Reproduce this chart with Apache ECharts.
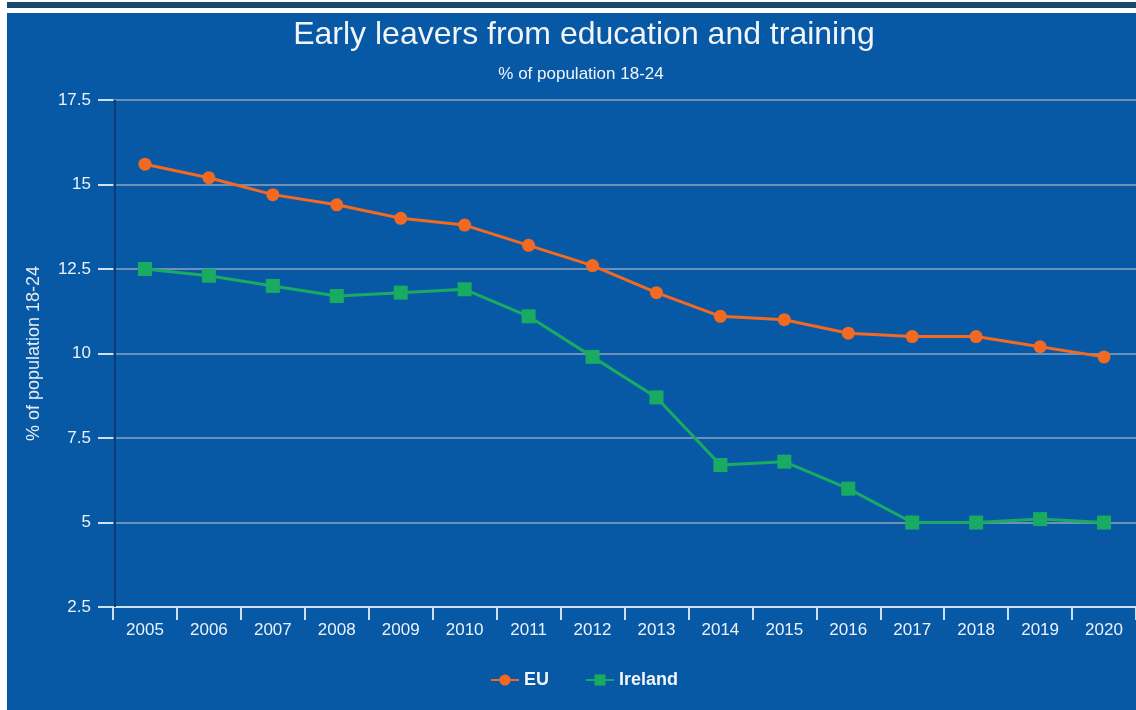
<!DOCTYPE html>
<html>
<head>
<meta charset="utf-8">
<script src="https://cdn.jsdelivr.net/npm/echarts@6/dist/echarts.min.js"></script>
<style>
html,body{margin:0;padding:0;background:#fff;}
#c{width:1136px;height:710px;}
</style>
</head>
<body>
<div id="c"></div>
<script>
const years = ['2005','2006','2007','2008','2009','2010','2011','2012','2013','2014','2015','2016','2017','2018','2019','2020'];
const euValues = [15.6, 15.2, 14.7, 14.4, 14.0, 13.8, 13.2, 12.6, 11.8, 11.1, 11.0, 10.6, 10.5, 10.5, 10.2, 9.9];
const irelandValues = [12.5, 12.3, 12.0, 11.7, 11.8, 11.9, 11.1, 9.9, 8.7, 6.7, 6.8, 6.0, 5.0, 5.0, 5.1, 5.0];
const yTicks = [2.5, 5, 7.5, 10, 12.5, 15, 17.5];

const chart = echarts.init(document.getElementById('c'), null, {renderer:'canvas'});
const ORANGE = '#f26a22';
const GREEN = '#1aab62';
const FONT = 'Liberation Sans, Arial, sans-serif';
chart.setOption({
  backgroundColor: '#ffffff',
  animation: false,
  graphic: [
    {type:'rect', z:-10, shape:{x:7, y:2, width:1129, height:6}, style:{fill:'#17486f'}},
    {type:'rect', z:-10, shape:{x:7, y:13, width:1129, height:697}, style:{fill:'#0759a6'}},
    {type:'line', z:5, shape:{x1:115, y1:100, x2:115, y2:607}, style:{stroke:'#0a3a70', lineWidth:2}}
  ],
  title: [
    {text:'Early leavers from education and training', left:579, top:14, textAlign:'center',
     textStyle:{color:'#f2f4f8', fontFamily:FONT, fontSize:32, fontWeight:'normal'}},
    {text:'% of population 18-24', left:576, top:61, textAlign:'center',
     textStyle:{color:'#f2f4f8', fontFamily:FONT, fontSize:17, fontWeight:'normal'}}
  ],
  legend: {
    data:['EU','Ireland'], left:485, top:666, itemGap:36, itemWidth:28, itemHeight:14,
    textStyle:{color:'#f2f4f8', fontFamily:FONT, fontSize:18, fontWeight:'bold'}
  },
  grid: {left:113, right:-4, top:100, bottom:103, containLabel:false},
  xAxis: {
    type:'category', data:years, boundaryGap:true,
    axisLine:{show:true, lineStyle:{color:'#cfe0f2', width:2}},
    axisTick:{show:true, length:13, lineStyle:{color:'#cfe0f2', width:2}},
    axisLabel:{color:'#eef2f8', fontFamily:FONT, fontSize:17, margin:15},
    splitLine:{show:false}
  },
  yAxis: {
    type:'value', min:2.5, max:17.5, interval:2.5,
    name:'% of population 18-24', nameLocation:'middle', nameGap:70, nameRotate:90,
    nameTextStyle:{color:'#e6ecf5', fontFamily:FONT, fontSize:18},
    axisLine:{show:false},
    axisTick:{show:true, length:15, lineStyle:{color:'#cfe0f2', width:2}},
    axisLabel:{color:'#eef2f8', fontFamily:FONT, fontSize:17, margin:22,
      formatter: v => yTicks.includes(v) ? String(v) : ''},
    splitLine:{show:true, lineStyle:{color:'#8fa3bb', width:1.5}}
  },
  series: [
    {name:'EU', type:'line', data:euValues, symbol:'circle', symbolSize:13,
     lineStyle:{color:ORANGE, width:3}, itemStyle:{color:ORANGE}, z:3},
    {name:'Ireland', type:'line', data:irelandValues, symbol:'rect', symbolSize:14,
     lineStyle:{color:GREEN, width:3}, itemStyle:{color:GREEN}, z:3}
  ]
});
</script>
</body>
</html>
